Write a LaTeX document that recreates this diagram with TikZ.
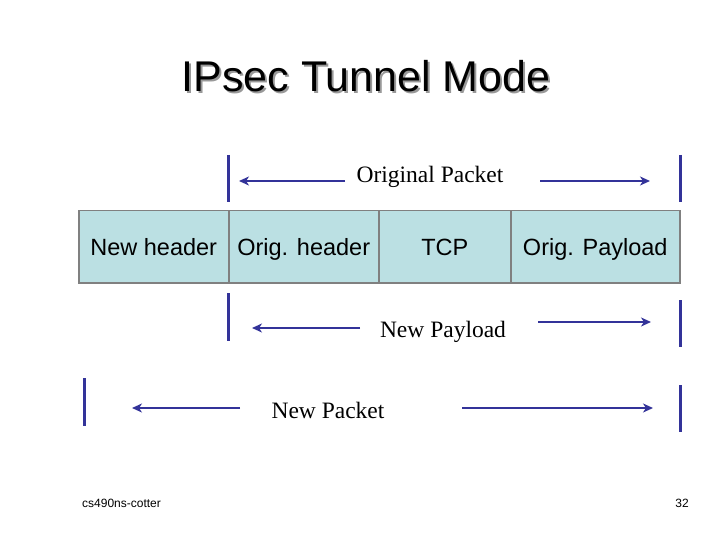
\documentclass[tikz,border=0pt]{standalone}
\usepackage{fontspec}
\setmainfont{Liberation Serif}
\setsansfont{Liberation Sans}
\usetikzlibrary{arrows.meta}
\definecolor{cellfill}{RGB}{187,224,227}
\definecolor{cellline}{RGB}{128,128,128}
\definecolor{barblue}{RGB}{51,51,153}
\tikzset{
  cell/.style={draw=cellline, line width=1.5pt, fill=cellfill, minimum height=72pt, inner sep=0pt, anchor=north west, text height=20pt, text depth=2pt, font=\sffamily\fontsize{23.5}{26}\selectfont},
  bar/.style={draw=barblue, line width=3pt},
  span/.style={draw=barblue, line width=1.8pt, -{Stealth[length=10pt,width=9pt,inset=3pt]}},
  lbl/.style={font=\fontsize{23.5}{26}\selectfont, inner sep=0pt},
  foot/.style={font=\sffamily\fontsize{12}{14}\selectfont, inner sep=0pt}
}
\newcommand{\shadowtext}[1]{\rlap{\kern2pt\raisebox{-2pt}{\color{black!40}#1}}#1}
\begin{document}
\begin{tikzpicture}[x=1pt,y=-1pt]
\useasboundingbox (0,0) rectangle (720,540);
% title with shadow
\node[font=\sffamily\fontsize{43}{48}\selectfont, inner sep=0pt] (title) at (366,77) {\shadowtext{IPsec Tunnel Mode}};
% packet cells
\node[cell, minimum width=150pt] (newh) at (78,210) {New header};
\node[cell, minimum width=150pt] (origh) at (228,210) {Orig. header};
\node[cell, minimum width=132pt] (tcp) at (378,210) {TCP};
\node[cell, minimum width=169pt] (payload) at (510,210) {Orig. Payload};
% Original Packet
\coordinate (op1) at (228,155); \coordinate (op2) at (228,202);
\coordinate (op3) at (680,155); \coordinate (op4) at (680,202);
\draw[bar] (op1) -- (op2);
\draw[bar] (op3) -- (op4);
\node[lbl] (oplbl) at (430,177) {Original Packet};
\coordinate (opa) at (345,181); \coordinate (opb) at (239,181);
\coordinate (opc) at (540,181); \coordinate (opd) at (650,181);
\draw[span] (opa) -- (opb);
\draw[span] (opc) -- (opd);
% New Payload
\coordinate (np1) at (228,293); \coordinate (np2) at (228,341);
\coordinate (np3) at (680,300); \coordinate (np4) at (680,347);
\draw[bar] (np1) -- (np2);
\draw[bar] (np3) -- (np4);
\node[lbl] (nplbl) at (443,332) {New Payload};
\coordinate (npa) at (360,328); \coordinate (npb) at (252,328);
\coordinate (npc) at (538,322); \coordinate (npd) at (651,322);
\draw[span] (npa) -- (npb);
\draw[span] (npc) -- (npd);
% New Packet
\coordinate (nk1) at (84,378); \coordinate (nk2) at (84,426);
\coordinate (nk3) at (680,385); \coordinate (nk4) at (680,432);
\draw[bar] (nk1) -- (nk2);
\draw[bar] (nk3) -- (nk4);
\node[lbl] (nklbl) at (328,410) {New Packet};
\coordinate (nka) at (240,408); \coordinate (nkb) at (132,408);
\coordinate (nkc) at (462,408); \coordinate (nkd) at (653,408);
\draw[span] (nka) -- (nkb);
\draw[span] (nkc) -- (nkd);
% footer
\node[foot, anchor=west] (author) at (82,503) {cs490ns-cotter};
\node[foot, anchor=east] (page) at (689,503) {32};
\end{tikzpicture}
\end{document}
